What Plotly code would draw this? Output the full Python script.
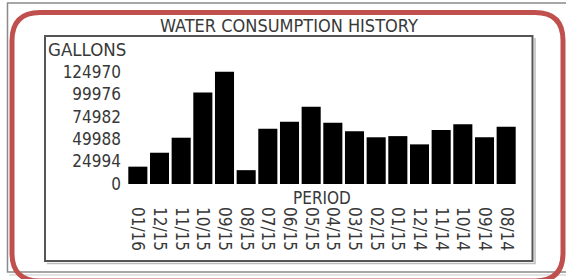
import plotly.graph_objects as go

# ---- data ----
periods = ["01/16", "12/15", "11/15", "10/15", "09/15", "08/15", "07/15", "06/15", "05/15",
           "04/15", "03/15", "02/15", "01/15", "12/14", "11/14", "10/14", "09/14", "08/14"]
gallons = [19300, 34800, 51500, 101800, 124970, 15400, 61400, 69200, 86000,
           68200, 58600, 52000, 53300, 44100, 60100, 66400, 52000, 63800]
y_ticks = [0, 24994, 49988, 74982, 99976, 124970]
y_tick_labels = ["0", "24994", "49988", "74982", "99976", "124970"]

title_text = "WATER CONSUMPTION HISTORY"
y_label = "GALLONS"
x_label = "PERIOD"

# ---- layout geometry (pixels) ----
W, H = 566, 279
ML, MR, MT, MB = 127, 49, 60, 95
PW = W - ML - MR
PH = H - MT - MB
BASE = H - MB
Y_MAX = 138000

FONT = "DejaVu Sans Condensed, DejaVu Sans, sans-serif"
TXT = "#383838"


def px(x, y):
    return (x - ML) / PW, (BASE - y) / PH


def rect_path(x0, y0, x1, y1, r=0):
    def p(x, y):
        a, b = px(x, y)
        return f"{a:.5f},{b:.5f}"
    if r == 0:
        return f"M{p(x0, y0)} L{p(x1, y0)} L{p(x1, y1)} L{p(x0, y1)} Z"
    segs = [
        "M" + p(x0 + r, y0),
        "L" + p(x1 - r, y0),
        "Q" + p(x1, y0) + " " + p(x1, y0 + r),
        "L" + p(x1, y1 - r),
        "Q" + p(x1, y1) + " " + p(x1 - r, y1),
        "L" + p(x0 + r, y1),
        "Q" + p(x0, y1) + " " + p(x0, y1 - r),
        "L" + p(x0, y0 + r),
        "Q" + p(x0, y0) + " " + p(x0 + r, y0),
    ]
    return " ".join(segs) + " Z"


def open_path(points):
    s = []
    for i, (x, y) in enumerate(points):
        a, b = px(x, y)
        s.append(("M" if i == 0 else "L") + f"{a:.5f},{b:.5f}")
    return " ".join(s)


fig = go.Figure(
    go.Bar(x=periods, y=gallons, marker=dict(color="#000000", line=dict(width=0)))
)

shapes = [
    # outer grey frame
    dict(type="path", xref="paper", yref="paper", path=rect_path(7.5, 3, 580, 272),
         line=dict(color="#8a8a8a", width=1.5), layer="below"),
    # light shadow of outer frame bottom
    dict(type="path", xref="paper", yref="paper", path=open_path([(9, 275), (580, 275)]),
         line=dict(color="#c8c8c8", width=1), layer="below"),
    # inner chart frame shadow
    dict(type="path", xref="paper", yref="paper",
         path=open_path([(47, 263.5), (535, 263.5), (535, 38)]),
         line=dict(color="#bdbdbd", width=1.5), layer="below"),
    # inner chart frame
    dict(type="path", xref="paper", yref="paper", path=rect_path(45, 36, 532.5, 261),
         line=dict(color="#555555", width=2), layer="below"),
    # red rounded highlight
    dict(type="path", xref="paper", yref="paper", path=rect_path(12, 12.5, 563, 281, 28),
         line=dict(color="#c0504d", width=5), layer="above"),
]

ax, ay = px(289, 25)
gx, gy = px(46, 49)
ppx, ppy = px(322, 197.5)
annotations = [
    dict(text=title_text, x=ax, y=ay, xref="paper", yref="paper", showarrow=False,
         xanchor="center", yanchor="middle", font=dict(family=FONT, size=18, color=TXT)),
    dict(text=y_label, x=gx, y=gy, xref="paper", yref="paper", showarrow=False,
         xanchor="left", yanchor="middle", font=dict(family=FONT, size=18.5, color=TXT)),
    dict(text=x_label, x=ppx, y=ppy, xref="paper", yref="paper", showarrow=False,
         xanchor="center", yanchor="middle", font=dict(family=FONT, size=17, color=TXT)),
]

fig.update_layout(
    width=W, height=H,
    margin=dict(l=ML, r=MR, t=MT, b=MB, pad=0),
    paper_bgcolor="white", plot_bgcolor="white",
    showlegend=False, bargap=0.12,
    shapes=shapes, annotations=annotations,
    font=dict(family=FONT, color=TXT),
    xaxis=dict(
        type="category", tickangle=90, showgrid=False, showline=False, zeroline=False,
        ticks="", ticklabelstandoff=22, tickfont=dict(family=FONT, size=17, color=TXT),
        automargin=False, fixedrange=True,
    ),
    yaxis=dict(
        range=[0, Y_MAX], tickmode="array", tickvals=y_ticks, ticktext=y_tick_labels,
        showgrid=False, showline=False, zeroline=False, ticks="", ticklabelstandoff=5,
        tickfont=dict(family=FONT, size=17, color=TXT), automargin=False, fixedrange=True,
    ),
)

fig.write_html(
    "out.html",
    config={"displayModeBar": False},
    post_script="document.body.style.margin='0';document.body.style.overflow='hidden';",
)
